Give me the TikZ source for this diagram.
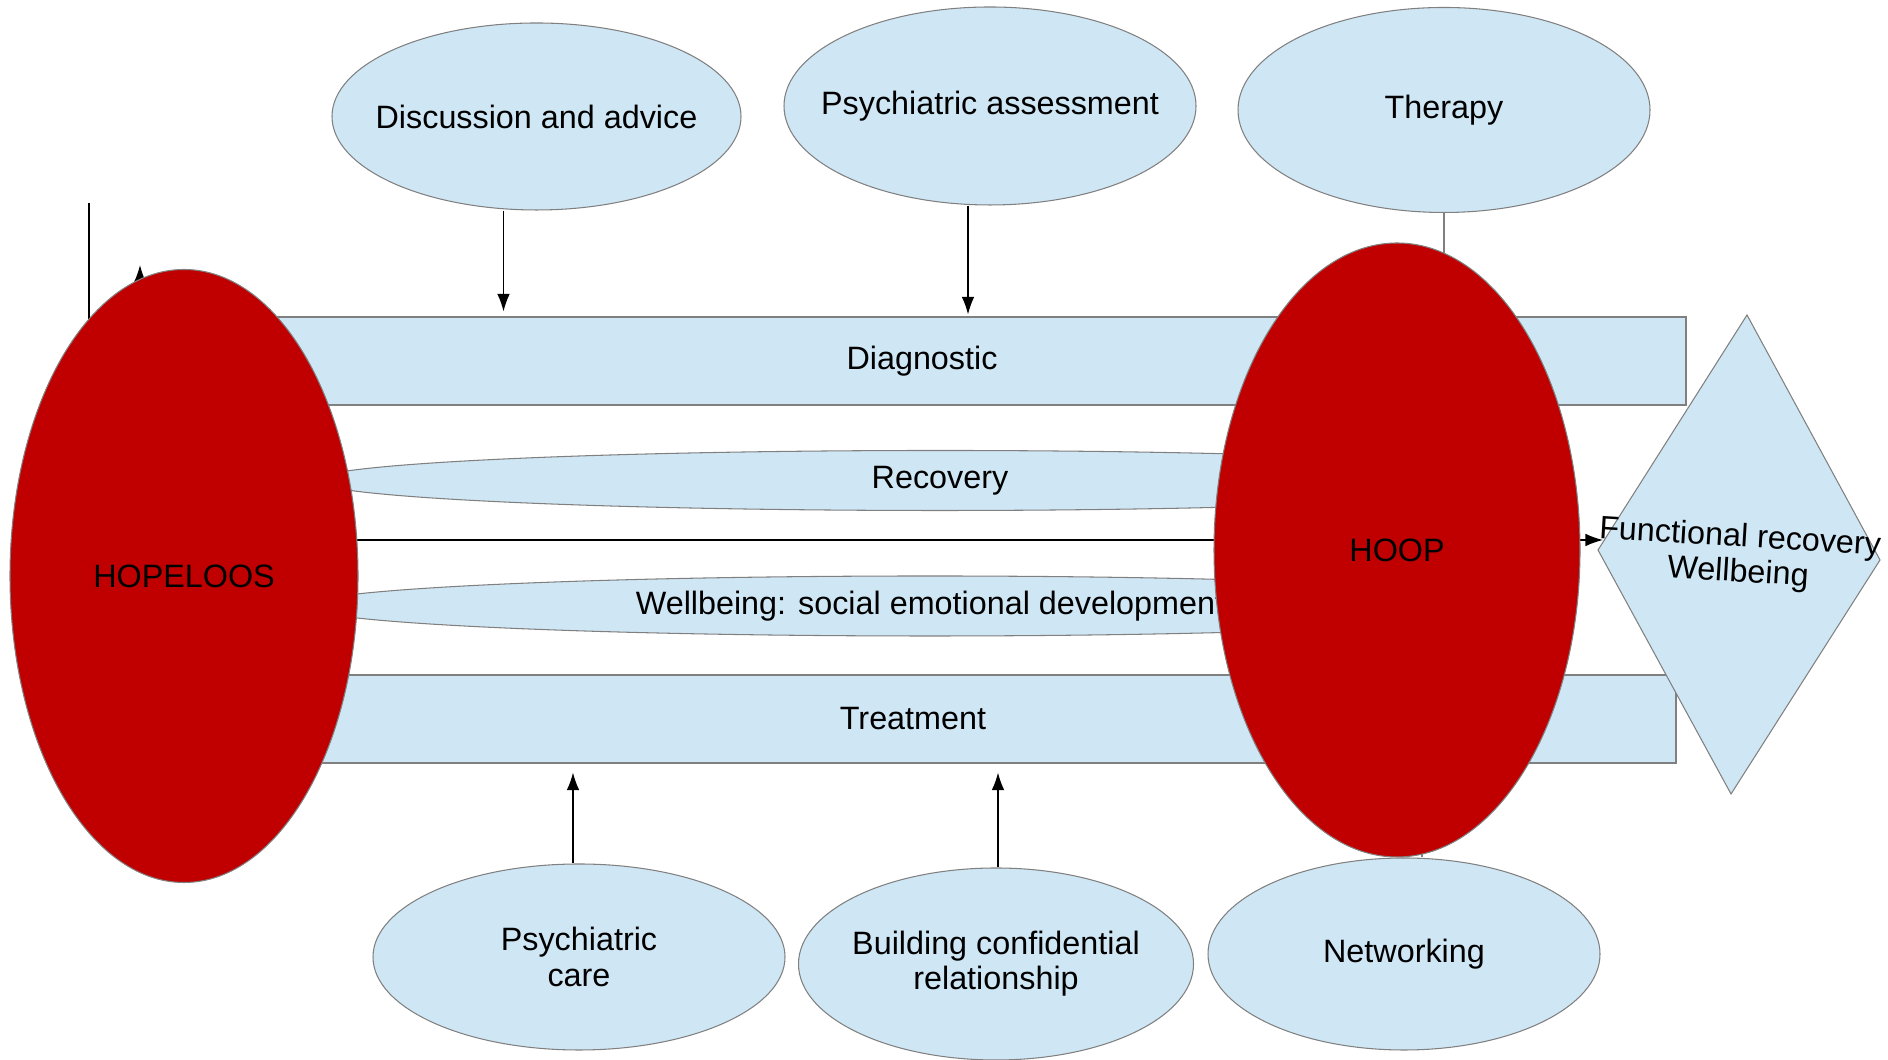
\documentclass[tikz,border=0pt]{standalone}
\usepackage{fontspec}
\setmainfont{Liberation Sans}
\usetikzlibrary{arrows.meta,calc,shapes.geometric}
\definecolor{paleblue}{RGB}{207,231,245}
\definecolor{deepred}{RGB}{192,0,0}
\definecolor{rim}{RGB}{128,128,128}

\begin{document}
\begin{tikzpicture}[>={Latex[length=5pt,width=3.6pt]}, font=\fontsize{9.2}{10}\selectfont]
	\tikzstyle{bubble}=[ellipse, draw=rim, line width=0.3pt, fill=paleblue, inner xsep=-0.5cm, inner ysep=0pt, align=center]
	\tikzstyle{band}=[rectangle, draw=rim, line width=0.3pt, fill=paleblue, inner sep=0pt, minimum height=0.88cm]
	\tikzstyle{blob}=[ellipse, draw=rim, line width=0.3pt, fill=deepred, inner sep=0pt]
	\tikzstyle{link}=[->, line width=0.4pt]
	\tikzstyle{faint}=[->, line width=0.4pt, draw=rim]

	\useasboundingbox (0,0) rectangle (18.88,10.6);

	% services above and below
	\node (disc) [bubble, minimum width=4.09cm, minimum height=1.87cm] at (5.365,9.435) {Discussion and advice};
	\node (assess) [bubble, minimum width=4.12cm, minimum height=1.98cm] at (9.90,9.54) {Psychiatric assessment};
	\node (therapy) [bubble, minimum width=4.12cm, minimum height=2.05cm] at (14.44,9.50) {Therapy};
	\node (care) [bubble, minimum width=4.12cm, minimum height=1.86cm] at (5.79,1.03) {Psychiatric\\care};
	\node (trust) [bubble, minimum width=3.95cm, minimum height=1.92cm] at (9.96,0.96) {Building confidential\\relationship};
	\node (net) [bubble, minimum width=3.92cm, minimum height=1.92cm] at (14.04,1.06) {Networking};

	% the four bands
	\node (diag) [band, minimum width=15.28cm] at (9.22,6.99) {Diagnostic};
	\node (recov) [bubble, minimum width=12.5cm, minimum height=0.60cm] at (9.40,5.795) {Recovery};
	\node (well) [bubble, minimum width=12.5cm, minimum height=0.60cm] at (9.30,4.54) {Wellbeing: social emotional development};
	\node (treat) [band, minimum width=15.26cm] at (9.13,3.41) {Treatment};

	\draw [link] ($(disc.south)+(-0.33,0)$) -- ($(disc.south |- diag.north)+(-0.33,0.05)$);
	\draw [link] ($(assess.south)+(-0.22,0)$) -- ($(assess.south |- diag.north)+(-0.22,0.02)$);
	\draw [faint] (therapy.south) -- (therapy.south |- diag.north);
	\draw [link] ($(care.north)+(-0.06,0)$) -- ($(care.north |- treat.south)+(-0.06,-0.09)$);
	\draw [link] ($(trust.north)+(0.02,0)$) -- ($(trust.north |- treat.south)+(0.02,-0.09)$);
	\draw [faint] ($(net.north)+(0.18,0)$) -- ($(net.north |- treat.south)+(0.18,0)$);

	% loop ends left of HOPELOOS
	\coordinate (loopfoot) at (0.89,8.57);
	\coordinate (looptip) at (1.40,7.95);
	\draw [line width=0.4pt] (loopfoot) -- ++(0,-1.8);
	\draw [link] ($(looptip)+(0,-1.8)$) -- (looptip);

	% goal
	\coordinate (gN) at (17.47,7.45);
	\coordinate (gE) at (18.80,5.00);
	\coordinate (gS) at (17.31,2.66);
	\coordinate (gW) at (15.98,5.10);
	\draw [draw=rim, line width=0.3pt, fill=paleblue] (gN) -- (gE) -- (gS) -- (gW) -- cycle;

	\coordinate (midstart) at (3.56,5.20);
	\coordinate (goalin) at (16.03,5.20);
	\draw [link] (midstart) -- (goalin);

	\node (goal) [align=center, rotate=-3.5, inner sep=0pt] at (17.39,5.04) {Functional recovery\\Wellbeing};

	\node (hopeloos) [blob, minimum width=3.48cm, minimum height=6.13cm] at (1.84,4.84) {HOPELOOS};
	\node (hoop) [blob, minimum width=3.66cm, minimum height=6.14cm] at (13.97,5.10) {HOOP};
\end{tikzpicture}
\end{document}
